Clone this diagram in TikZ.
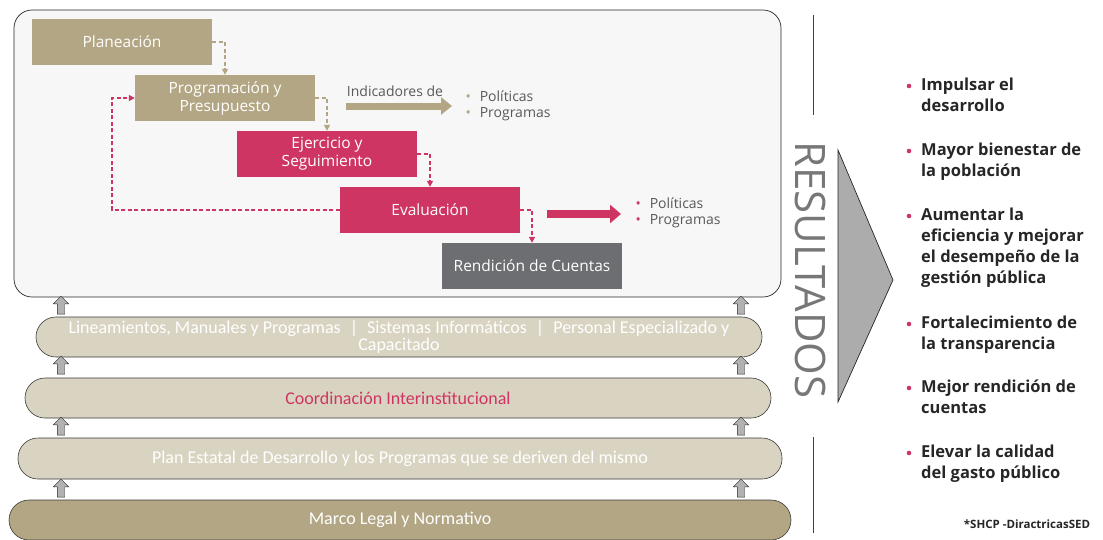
\documentclass[tikz,border=0pt]{standalone}
\usepackage{fontspec}
\setmainfont{Open Sans}
\newfontfamily\layerfont{Carlito}
\usetikzlibrary{arrows.meta,shapes.arrows}

\definecolor{tanc}{HTML}{B3A684}
\definecolor{lighttan}{HTML}{D9D3C1}
\definecolor{crim}{HTML}{CF3562}
\definecolor{slate}{HTML}{6D6E71}
\definecolor{panel}{HTML}{F7F7F7}
\definecolor{txtgray}{HTML}{595959}
\definecolor{resgray}{HTML}{777777}

\tikzset{
  stagebox/.style={minimum width=180pt, minimum height=46pt, inner sep=0pt, text=white, align=center,
    font=\fontsize{15.5}{18}\selectfont},
  layer/.style={rounded corners=20pt, minimum height=40pt, inner sep=0pt, draw=gray!45!black,
    line width=0.6pt, align=center, font=\layerfont\fontsize{18}{17}\selectfont},
  flowdash/.style={dash pattern=on 4pt off 2.5pt, line width=1.8pt, -{Triangle[length=6pt,width=6pt]}},
  uparrow/.style={single arrow, shape border rotate=90, draw=gray!30!black, fill=gray!60,
    minimum height=18pt, minimum width=15pt, single arrow head extend=4pt, inner sep=3.5pt},
  bullets/.style={align=left, text=txtgray, font=\fontsize{14}{16.5}\selectfont},
  reslist/.style={align=left, inner sep=0pt, text=black!85, font=\bfseries\fontsize{16.5}{21}\selectfont}
}

\begin{document}
\begin{tikzpicture}[x=1pt,y=-1pt]
\useasboundingbox (0,0) rectangle (1103,539);

\draw[fill=panel, draw=gray!30!black, line width=0.7pt, rounded corners=18pt] (14,10) rectangle (781,297);

\node[stagebox, fill=tanc] (planea) at (122,42) {Planeación};
\node[stagebox, fill=tanc] (progr) at (225,98) {Programación y\\Presupuesto};
\node[stagebox, fill=crim] (ejerc) at (327,154) {Ejercicio y\\Seguimiento};
\node[stagebox, fill=crim] (evalu) at (430,210) {Evaluación};
\node[stagebox, fill=slate] (rendi) at (532,266) {Rendición de Cuentas};

\draw[flowdash, tanc] (planea.east) -| (progr.north);
\draw[flowdash, tanc] (progr.east) -| (ejerc.north);
\draw[flowdash, crim] (ejerc.east) -| (evalu.north);
\draw[flowdash, crim] (evalu.east) -| (rendi.north);
\coordinate (back) at (112,210);
\draw[flowdash, crim] (evalu.west) -- (back) |- (progr.west);

\node[text=txtgray, font=\fontsize{14}{16}\selectfont] (indic) at (395,91) {Indicadores de};
\coordinate (ia) at (346,106);
\coordinate (ib) at (452,106);
\draw[tanc, line width=7pt, -{Triangle[length=11pt,width=17pt]}] (ia) -- (ib);
\node[bullets, anchor=west] (indlist) at (462,106) {{\color{tanc}•}\hspace{9pt}Políticas\\{\color{tanc}•}\hspace{9pt}Programas};

\coordinate (ea) at (547,214);
\coordinate (eb) at (621,214);
\draw[crim, line width=8pt, -{Triangle[length=11pt,width=18pt]}] (ea) -- (eb);
\node[bullets, anchor=west] (evlist) at (632,213) {{\color{crim}•}\hspace{9pt}Políticas\\{\color{crim}•}\hspace{9pt}Programas};

\node[layer, fill=lighttan, text=white, minimum width=726pt] (tools) at (399,337)
  {Lineamientos, Manuales y Programas \;|\; Sistemas Informáticos \;|\; Personal Especializado y\\Capacitado};
\node[layer, fill=lighttan, text=crim, minimum width=746pt] (coord) at (398,398) {Coordinación Interinstitucional};
\node[layer, fill=lighttan, text=white, minimum width=764pt, minimum height=41pt] (ped) at (400,458.5)
  {Plan Estatal de Desarrollo y los Programas que se deriven del mismo};
\node[layer, fill=tanc, text=white, minimum width=782pt] (marco) at (400,520) {Marco Legal y Normativo};

\foreach \y [count=\i] in {307,367,428,490} {
  \node[uparrow] (upl\i) at (61,\y) {};
  \node[uparrow] (upr\i) at (741,\y) {};
}

\draw[gray!50!black, line width=0.8pt] (813,15) -- (813,115);
\draw[gray!50!black, line width=0.8pt] (813,437) -- (813,533);
\node[rotate=-90, text=resgray, font=\fontsize{42}{42}\selectfont] (result) at (811,270) {RESULTADOS};
\draw[fill=gray!65, draw=gray!30!black, line width=0.7pt] (838,150) -- (893,280) -- (838,402) -- cycle;

\foreach \y/\txt [count=\i] in {78/{Impulsar el\\desarrollo}, 143/{Mayor bienestar de\\la población},
    208/{Aumentar la\\eficiencia y mejorar\\el desempeño de la\\gestión pública},
    316/{Fortalecimiento de\\la transparencia}, 380/{Mejor rendición de\\cuentas},
    445/{Elevar la calidad\\del gasto público}} {
  \fill[crim] (909,\y+8) circle (2.3pt);
  \node[reslist, anchor=north west] (res\i) at (921,\y) {\txt};
}
\node[text=black!85, font=\bfseries\fontsize{11.5}{13}\selectfont] (src) at (1027,524) {*SHCP -DiractricasSED};
\end{tikzpicture}
\end{document}
